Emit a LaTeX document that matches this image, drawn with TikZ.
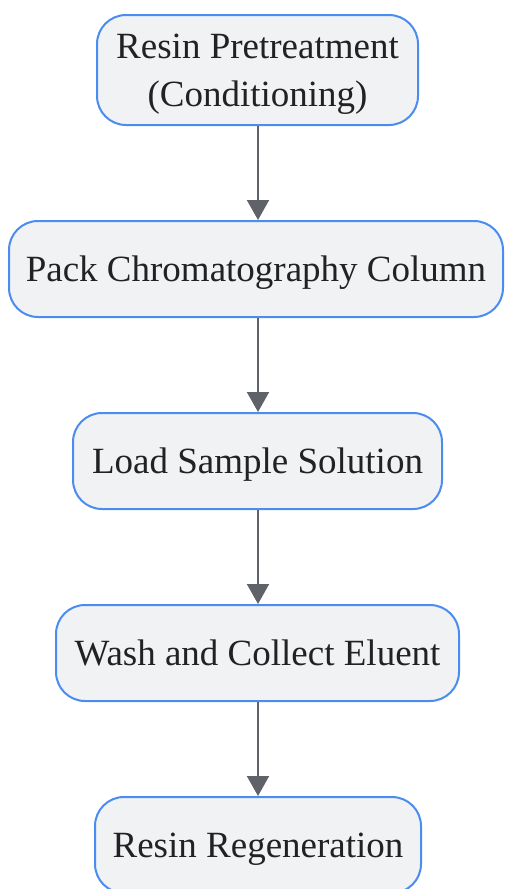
\documentclass[tikz,border=0pt]{standalone}
\usepackage{fontspec}
\setmainfont{Liberation Serif}
\usepackage{xcolor}
\usetikzlibrary{arrows.meta}
\definecolor{boxblue}{HTML}{4A8CF0}
\definecolor{boxfill}{HTML}{F1F2F4}
\definecolor{arrowgray}{HTML}{5F6368}
\definecolor{textdark}{HTML}{222222}

\begin{document}
\begin{tikzpicture}[x=1pt, y=1pt,
  stagebox/.style={draw=boxblue, fill=boxfill, line width=2pt, rounded corners=29pt,
    text=textdark, font=\fontsize{37}{48}\selectfont, align=center, inner sep=0pt,
    text depth=0pt},
  flowarrow/.style={draw=arrowgray, line width=2pt, -{Triangle[length=20pt, width=22pt]}}]
  \useasboundingbox (0,0) rectangle (504,-889);
  \node[stagebox, minimum width=321pt, minimum height=110pt] (pretreat) at (257.5,-70) {Resin Pretreatment\\(Conditioning)};
  \node[stagebox, minimum width=494pt, minimum height=96pt] (pack) at (256,-269) {Pack Chromatography Column};
  \node[stagebox, minimum width=369pt, minimum height=96pt] (load) at (257.5,-461) {Load Sample Solution};
  \node[stagebox, minimum width=403pt, minimum height=96pt] (wash) at (257.5,-653) {Wash and Collect Eluent};
  \node[stagebox, minimum width=326pt, minimum height=96pt] (regen) at (258,-845) {Resin Regeneration};
  \draw[flowarrow] (pretreat.south -| 258,0) -- (pack.north -| 258,0);
  \draw[flowarrow] (pack.south -| 258,0) -- (load.north -| 258,0);
  \draw[flowarrow] (load.south -| 258,0) -- (wash.north -| 258,0);
  \draw[flowarrow] (wash.south -| 258,0) -- (regen.north -| 258,0);
\end{tikzpicture}
\end{document}
